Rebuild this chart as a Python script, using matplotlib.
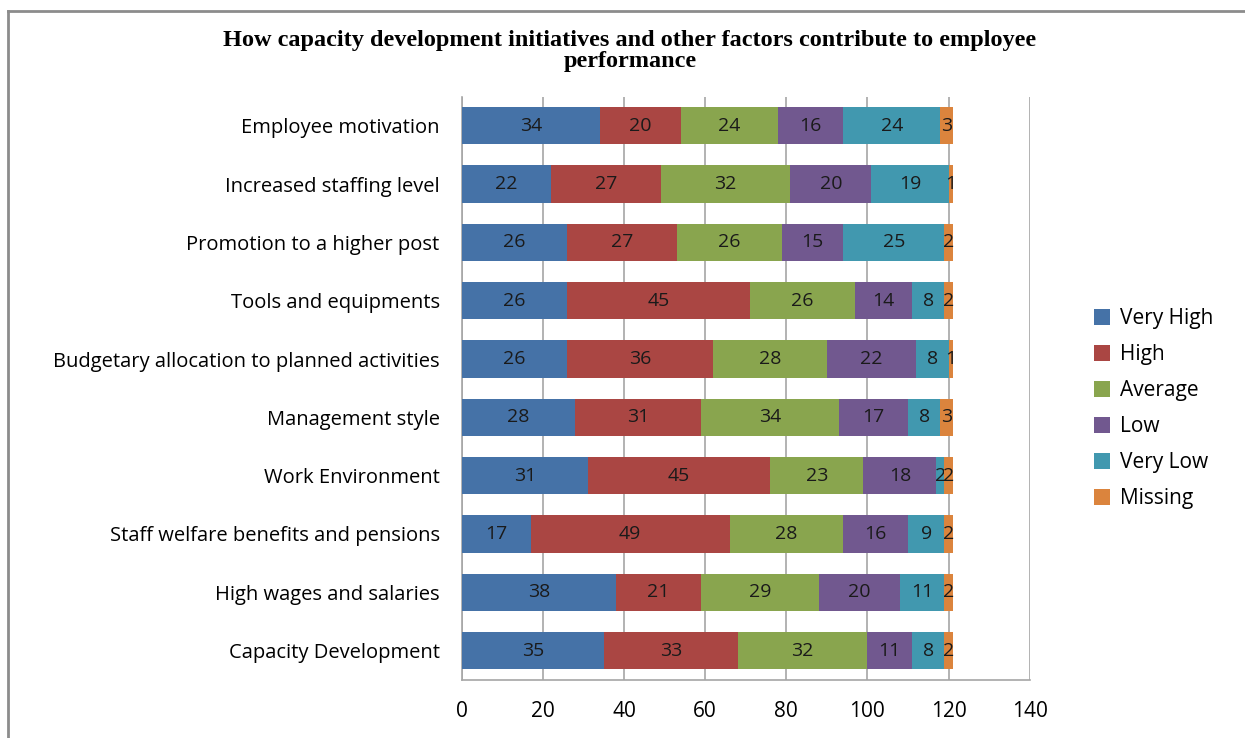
import matplotlib.pyplot as plt
import numpy as np
from matplotlib.lines import Line2D

# rows listed bottom to top, the order barh draws them
FACTORS = [
    "Capacity Development",
    "High wages and salaries",
    "Staff welfare benefits and pensions",
    "Work Environment",
    "Management style",
    "Budgetary allocation to planned activities",
    "Tools and equipments",
    "Promotion to a higher post",
    "Increased staffing level",
    "Employee motivation",
]

very_high = [35, 38, 17, 31, 28, 26, 26, 26, 22, 34]
high = [33, 21, 49, 45, 31, 36, 45, 27, 27, 20]
average = [32, 29, 28, 23, 34, 28, 26, 26, 32, 24]
low = [11, 20, 16, 18, 17, 22, 14, 15, 20, 16]
very_low = [8, 11, 9, 2, 8, 8, 8, 25, 19, 24]
missing = [2, 2, 2, 2, 3, 1, 2, 2, 1, 3]

SERIES = [
    ("Very High", very_high, "#4572A7"),
    ("High", high, "#AA4643"),
    ("Average", average, "#89A54E"),
    ("Low", low, "#71588F"),
    ("Very Low", very_low, "#4198AF"),
    ("Missing", missing, "#DB843D"),
]

TITLE = ("How capacity development initiatives and other factors contribute to employee\n"
         "performance")

FONT = "Open Sans"

fig = plt.figure(figsize=(12.45, 7.38), dpi=100)
ax = fig.add_axes([0.371, 0.079, 0.456, 0.79])

y = np.arange(len(FACTORS))
left = np.zeros(len(FACTORS))
for name, vals, color in SERIES:
    vals = np.asarray(vals, dtype=float)
    bars = ax.barh(y, vals, left=left, height=0.64, color=color, label=name, zorder=3)
    ax.bar_label(bars, labels=[f"{v:.0f}" for v in vals], label_type="center",
                 fontsize=14, color="#1a1a1a", family=FONT)
    left += vals

ax.set_xlim(0, 140)
ax.set_ylim(-0.5, len(FACTORS) - 0.5)
ax.set_xticks(np.arange(0, 141, 20))
ax.set_yticks(y)
ax.set_yticklabels(FACTORS, fontsize=14.5, family=FONT)
for lbl in ax.get_xticklabels():
    lbl.set_fontsize(15)
    lbl.set_family(FONT)
ax.tick_params(axis="x", length=0, pad=15)
ax.tick_params(axis="y", length=0, pad=16)
ax.grid(axis="x", color="#A6A6A6", linewidth=1.2, zorder=0)
for side in ("top", "right"):
    ax.spines[side].set_visible(False)
ax.spines["left"].set_color("#A6A6A6")
ax.spines["bottom"].set_color("#A6A6A6")
ax.spines["left"].set_linewidth(1.2)
ax.spines["bottom"].set_linewidth(1.2)

handles, labels = ax.get_legend_handles_labels()
fig.legend(handles, labels, loc="center left", bbox_to_anchor=(0.864, 0.446),
           frameon=False, prop={"family": FONT, "size": 15},
           handlelength=0.75, handleheight=0.75, handletextpad=0.5, labelspacing=0.72)

fig.text(0.506, 0.931, TITLE, ha="center", va="center", fontsize=17.5,
         fontweight="bold", family="Liberation Serif", linespacing=1.05)

# outer chart border, top and left edges
fig.add_artist(Line2D([8 / 1245, 1.0], [1 - 11 / 738, 1 - 11 / 738],
                      transform=fig.transFigure, color="#8C8C8C", linewidth=2))
fig.add_artist(Line2D([8 / 1245, 8 / 1245], [0, 1 - 11 / 738],
                      transform=fig.transFigure, color="#8C8C8C", linewidth=2))

fig.savefig("out.png", dpi=100)
